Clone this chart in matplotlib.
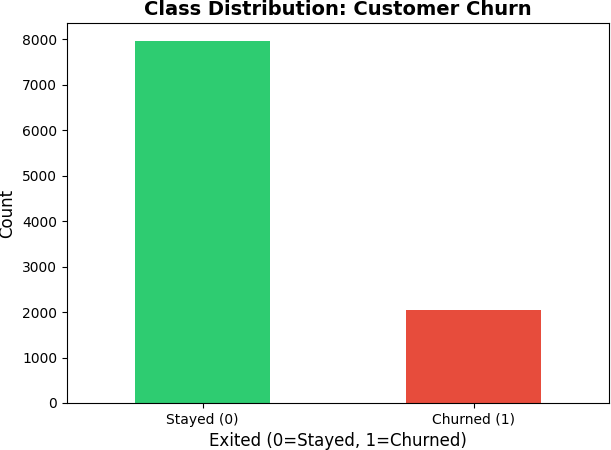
import matplotlib
matplotlib.use("Agg")
import matplotlib.pyplot as plt

# class counts
labels = ["Stayed (0)", "Churned (1)"]
counts = [7963, 2037]
colors = ["#2ecc71", "#e74c3c"]

fig = plt.figure(figsize=(6.11, 4.5), dpi=100)
ax = fig.add_axes([67/611, 1 - 403/450, 542/611, 380/450])

ax.bar(range(len(counts)), counts, width=0.5, color=colors)
ax.set_xlim(-0.5, len(counts) - 0.5)
ax.set_xticks(range(len(counts)))
ax.set_xticklabels(labels, rotation=0)

ax.set_title("Class Distribution: Customer Churn", fontsize=14, fontweight="bold")
ax.set_xlabel("Exited (0=Stayed, 1=Churned)", fontsize=12)
ax.set_ylabel("Count", fontsize=12)

fig.savefig("out.png", dpi=100)
